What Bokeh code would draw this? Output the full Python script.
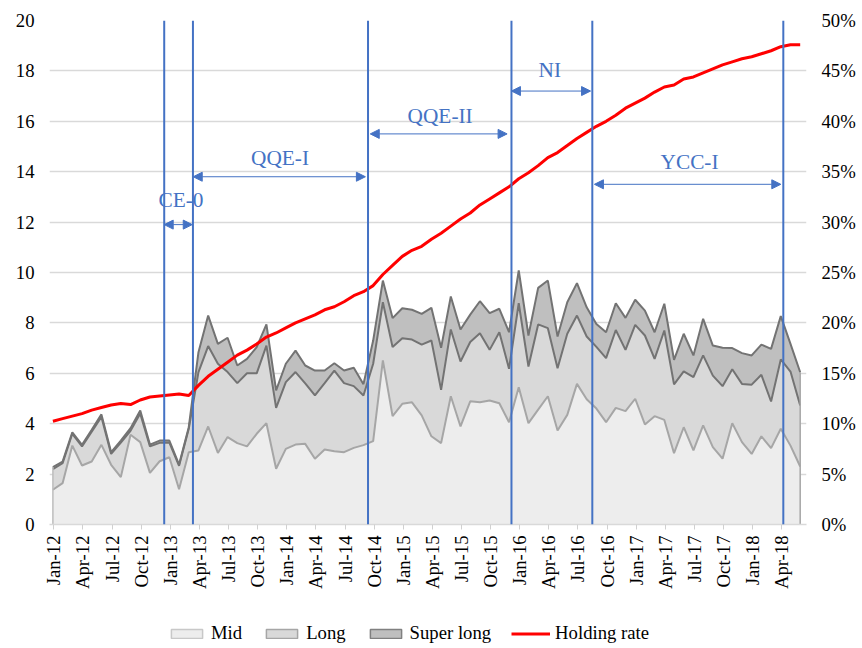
import numpy as np
from bokeh.plotting import figure
from bokeh.layouts import column
from bokeh.models import (ColumnDataSource, Range1d, LinearAxis, FixedTicker, CustomJSTickFormatter,
                          PrintfTickFormatter, Span, Arrow, NormalHead, Label, Legend, LegendItem)
from bokeh.embed import file_html
from bokeh.resources import INLINE

# ---------------- data (monthly, Jan-12 .. Jun-18) ----------------
tick_labels = ["Jan-12", "Apr-12", "Jul-12", "Oct-12", "Jan-13", "Apr-13", "Jul-13", "Oct-13",
               "Jan-14", "Apr-14", "Jul-14", "Oct-14", "Jan-15", "Apr-15", "Jul-15", "Oct-15",
               "Jan-16", "Apr-16", "Jul-16", "Oct-16", "Jan-17", "Apr-17", "Jul-17", "Oct-17",
               "Jan-18", "Apr-18", ""]

mid = [1.38, 1.64, 3.13, 2.34, 2.50, 3.16, 2.37, 1.88, 3.56, 3.27, 2.05, 2.51, 2.67,
       1.40, 2.87, 2.94, 3.89, 2.84, 3.47, 3.23, 3.10, 3.60, 4.02, 2.21, 3.00, 3.17,
       3.20, 2.61, 2.98, 2.91, 2.87, 3.04, 3.15, 3.31, 6.51, 4.30, 4.79, 4.85, 4.33,
       3.50, 3.23, 5.09, 3.89, 4.89, 4.85, 4.92, 4.81, 4.06, 5.45, 4.02, 4.56, 5.09,
       3.73, 4.35, 5.58, 4.97, 4.60, 4.06, 4.63, 4.50, 4.99, 3.97, 4.30, 4.15, 2.83,
       3.86, 2.94, 3.93, 3.07, 2.61, 4.02, 3.27, 2.80, 3.50, 3.03, 3.80, 3.13, 2.30]

long_ = [0.82, 0.79, 0.47, 0.76, 1.18, 1.11, 0.43, 1.37, 0.16, 1.13, 1.05, 0.73, 0.58,
         0.93, 0.93, 3.11, 3.19, 3.54, 2.58, 2.38, 2.90, 2.40, 3.08, 2.42, 2.65, 2.88,
         2.40, 2.51, 2.63, 3.20, 2.74, 2.45, 1.97, 3.07, 2.31, 2.74, 2.60, 2.49, 2.81,
         3.80, 2.11, 2.65, 2.58, 2.35, 2.74, 2.01, 2.82, 2.12, 3.33, 2.25, 3.38, 2.70,
         2.47, 3.22, 2.71, 2.49, 2.45, 2.54, 3.09, 2.43, 2.93, 3.53, 2.27, 3.55, 2.73,
         2.22, 2.91, 2.78, 2.84, 2.88, 2.14, 2.31, 2.75, 2.44, 1.85, 2.75, 2.94, 2.42]

super_long = [0.08, 0.07, 0.06, 0.06, 0.08, 0.10, 0.07, 0.08, 0.10, 0.12, 0.07, 0.09, 0.08,
              0.05, 0.06, 0.79, 1.21, 0.79, 1.36, 0.70, 0.57, 1.04, 0.84, 0.69, 0.73, 0.85,
              0.71, 0.99, 0.50, 0.29, 0.50, 0.73, 0.45, 0.92, 0.86, 1.15, 1.19, 1.18, 1.22,
              1.30, 1.67, 1.31, 1.27, 1.09, 1.27, 1.46, 0.93, 1.45, 1.30, 1.23, 1.45, 1.89,
              1.26, 1.25, 1.29, 1.16, 0.91, 1.03, 1.06, 1.27, 1.00, 0.99, 1.06, 1.06, 0.97,
              1.49, 0.86, 1.45, 1.19, 1.52, 0.84, 1.22, 1.16, 1.20, 2.09, 1.72, 1.10, 1.32]

holding_rate = [10.25, 10.5, 10.75, 11.0, 11.35, 11.6, 11.85, 12.0, 11.9, 12.35, 12.65, 12.75, 12.85,
                12.95, 12.8, 13.8, 14.7, 15.4, 16.1, 16.8, 17.3, 17.9, 18.6, 19.0, 19.5, 20.0,
                20.4, 20.8, 21.3, 21.6, 22.1, 22.7, 23.1, 23.7, 24.8, 25.7, 26.6, 27.2, 27.6,
                28.3, 28.9, 29.6, 30.3, 30.9, 31.7, 32.3, 32.9, 33.5, 34.3, 34.9, 35.6, 36.4,
                36.9, 37.6, 38.3, 38.9, 39.5, 40.0, 40.6, 41.3, 41.8, 42.3, 42.9, 43.4, 43.6,
                44.2, 44.4, 44.8, 45.2, 45.6, 45.9, 46.2, 46.4, 46.7, 47.0, 47.4, 47.6, 47.6]

# policy regimes (month index positions of the boundaries)
event_lines = [11.47, 14.43, 32.47, 47.25, 55.58, 75.26]
period_names = ["CE-0", "QQE-I", "QQE-II", "NI", "YCC-I"]
arrow_start = [11.47, 14.46, 32.70, 47.25, 55.80]
arrow_end = [14.36, 32.20, 46.80, 55.40, 75.00]
arrow_y = [11.9, 13.8, 15.5, 17.2, 13.5]
label_x = [13.2, 23.4, 39.9, 51.2, 65.6]
label_y = [12.86, 14.56, 16.23, 18.02, 14.37]

# ---------------- build ----------------
FONT = "Liberation Serif"
BLUE = "#4472C4"
n = len(mid)
x = np.arange(n)
c1 = np.array(mid)
c2 = c1 + np.array(long_)
c3 = c2 + np.array(super_long)

source = ColumnDataSource(dict(x=x, mid=mid, long=long_, superlong=super_long,
                               c1=c1, c2=c2, c3=c3, hold=holding_rate))

p = figure(width=862, height=600, x_range=Range1d(-0.35, 77.65), y_range=Range1d(0, 20),
           output_backend="svg", toolbar_location=None,
           min_border_left=49, min_border_right=56, min_border_top=20, min_border_bottom=76)
p.extra_y_ranges = {"pct": Range1d(0, 50)}
p.outline_line_color = None
p.background_fill_color = "white"

p.varea_stack(stackers=["mid", "long", "superlong"], x="x", source=source,
              color=["#EDEDED", "#D9D9D9", "#BFBFBF"])
p.line("x", "c1", source=source, line_color="#A6A6A6", line_width=2)
p.line("x", "c2", source=source, line_color="#737373", line_width=2)
p.line("x", "c3", source=source, line_color="#737373", line_width=2)
# edges of the areas
p.segment(x0=[x[-1]], y0=[0], x1=[x[-1]], y1=[c3[-1]], line_color="#A6A6A6", line_width=1.5)
p.segment(x0=[x[0]], y0=[0], x1=[x[0]], y1=[c3[0]], line_color="#BDBDBD", line_width=1.5)

p.line("x", "hold", source=source, y_range_name="pct", line_color="#FF0000", line_width=3)

# axes
TICK_SHIFT = 0.1
p.xaxis.ticker = FixedTicker(ticks=[TICK_SHIFT + 3 * k for k in range(len(tick_labels))])
p.xaxis.formatter = CustomJSTickFormatter(args=dict(labels=tick_labels, shift=TICK_SHIFT), code="""
    const i = Math.round((tick - shift) / 3);
    return (i >= 0 && i < labels.length) ? labels[i] : '';
""")
p.xaxis.major_label_orientation = np.pi / 2
p.xaxis.axis_line_color = "#D9D9D9"
p.xaxis.axis_line_width = 1.5
p.xaxis.major_tick_line_color = "#D0D0D0"
p.xaxis.major_tick_out = 5
p.xaxis.major_tick_in = 0
p.xaxis.minor_tick_line_color = None
p.xaxis.major_label_standoff = 6

p.yaxis.ticker = FixedTicker(ticks=list(range(0, 21, 2)))
p.yaxis.axis_line_color = None
p.yaxis.major_tick_line_color = None
p.yaxis.minor_tick_line_color = None
p.yaxis.major_label_standoff = 9

ax_r = LinearAxis(y_range_name="pct", ticker=FixedTicker(ticks=list(range(0, 51, 5))),
                  formatter=PrintfTickFormatter(format="%d%%"))
ax_r.axis_line_color = None
ax_r.major_tick_line_color = None
ax_r.minor_tick_line_color = None
ax_r.major_label_standoff = 9
p.add_layout(ax_r, "right")

for ax in [p.xaxis[0], p.yaxis[0], ax_r]:
    ax.major_label_text_font = FONT
    ax.major_label_text_font_size = "18.7px"
    ax.major_label_text_color = "black"

p.xgrid.visible = False
p.ygrid.grid_line_color = "#D9D9D9"
p.ygrid.grid_line_width = 1.5

# annotations
for ex in event_lines:
    p.add_layout(Span(location=ex, dimension="height", line_color=BLUE, line_width=2))
for name, xs, xe, ay, lx, ly in zip(period_names, arrow_start, arrow_end, arrow_y, label_x, label_y):
    p.add_layout(Arrow(x_start=xs, x_end=xe, y_start=ay, y_end=ay,
                       line_color=BLUE, line_width=1,
                       start=NormalHead(size=9, fill_color=BLUE, line_color=BLUE),
                       end=NormalHead(size=9, fill_color=BLUE, line_color=BLUE)))
    p.add_layout(Label(x=lx, y=ly, text=name, text_align="center", text_baseline="middle",
                       text_color=BLUE, text_font=FONT, text_font_size="21.3px"))

# legend (separate strip below the chart)
p2 = figure(width=862, height=48, x_range=Range1d(0, 1), y_range=Range1d(0, 1),
            output_backend="svg", toolbar_location=None, min_border=0,
            x_axis_type=None, y_axis_type=None)
p2.outline_line_color = None
p2.grid.visible = False
nanv = [np.nan]
r_mid = p2.quad(left=nanv, right=nanv, top=nanv, bottom=nanv, fill_color="#EDEDED", line_color="#C8C8C8", line_width=1.5)
r_long = p2.quad(left=nanv, right=nanv, top=nanv, bottom=nanv, fill_color="#D9D9D9", line_color="#A6A6A6", line_width=1.5)
r_sl = p2.quad(left=nanv, right=nanv, top=nanv, bottom=nanv, fill_color="#BFBFBF", line_color="#808080", line_width=1.5)
r_hr = p2.line(x=nanv, y=nanv, line_color="#FF0000", line_width=3)

legend = Legend(items=[LegendItem(label="Mid", renderers=[r_mid]),
                       LegendItem(label="Long", renderers=[r_long]),
                       LegendItem(label="Super long", renderers=[r_sl]),
                       LegendItem(label="Holding rate", renderers=[r_hr])],
                orientation="horizontal", location=(118, 4),
                label_text_font=FONT, label_text_font_size="18.7px", label_text_color="black",
                glyph_width=39, glyph_height=11, label_height=20, spacing=20, label_standoff=5,
                border_line_color=None, background_fill_alpha=0, padding=0, margin=0)
p2.add_layout(legend)

layout = column(p, p2, spacing=0)
open("out.html", "w").write(file_html(layout, INLINE))
